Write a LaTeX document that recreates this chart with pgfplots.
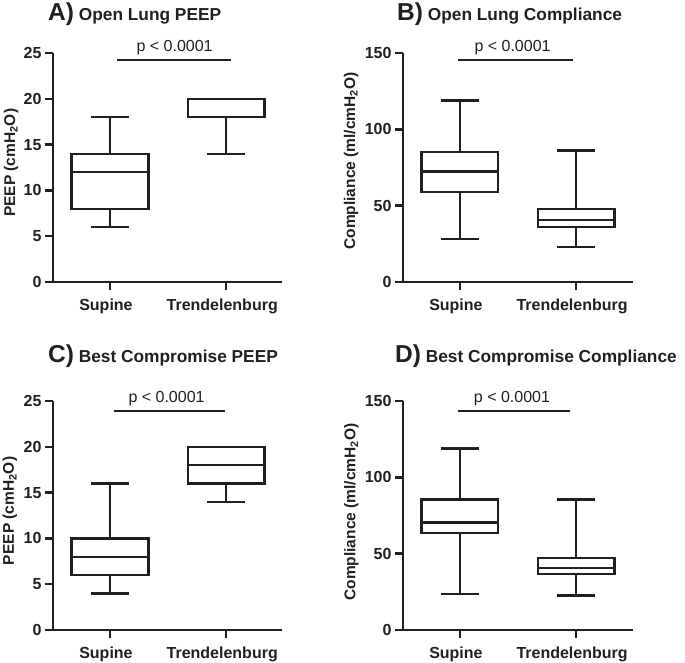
\documentclass[border=0pt]{standalone}
\usepackage{fontspec}
\setmainfont{Liberation Sans}
\usepackage{pgfplots}
\pgfplotsset{compat=1.18}
\usepgfplotslibrary{statistics}
\definecolor{ink}{RGB}{35,31,32}
\pgfplotsset{
 panel/.style={
  scale only axis, height=229pt,
  axis lines=left, axis line style={-, line width=2.4pt, ink},
  xtick={0,1}, xticklabels={Supine,Trendelenburg},
  ymin=0,
  tick align=outside, major tick length=8pt,
  tick style={line width=2.4pt, ink},
  tick label style={font=\fontsize{16}{16}\selectfont\bfseries, text=ink},
  xticklabel style={xshift=-4pt, yshift=-5pt},
  /pgf/number format/assume math mode=true,
  ylabel style={font=\fontsize{15.5}{15.5}\selectfont\bfseries, text=ink, anchor=center},
  clip=false,
  boxplot/draw direction=y,
  boxplot/box extend=0.66,
  boxplot/whisker extend=0.33,
 },
 peep/.style={panel, width=229pt, xmin=-0.49, xmax=1.48, ymax=25, ytick={0,5,10,15,20,25},
  ylabel={PEEP (cmH\textsubscript{2}O)}},
 comp/.style={panel, width=230pt, xmin=-0.49, xmax=1.49, ymax=150, ytick={0,50,100,150},
  ylabel={Compliance (ml/cmH\textsubscript{2}O)}},
 bx/.style={draw=ink, line width=2.4pt, fill=white, solid},
}
\newcommand{\ttl}[2]{\bfseries{\fontsize{24.5}{24.5}\selectfont #1)}\fontsize{17.3}{17.3}\selectfont\ #2}
\begin{document}
\begin{tikzpicture}
\useasboundingbox (0pt,0pt) rectangle (685pt,663pt);
% A
\begin{axis}[peep, at={(53pt,381pt)}, anchor=south west,
  ylabel style={at={(axis description cs:-0.183,0.52)}}]
\addplot[bx, boxplot prepared={draw position=0, lower whisker=6, lower quartile=8, median=12, upper quartile=14, upper whisker=18}] coordinates {};
\addplot[bx, boxplot prepared={draw position=1, lower whisker=14, lower quartile=18, median=18, upper quartile=20, upper whisker=20}] coordinates {};
\addplot[ink, line width=2.4pt] coordinates {(0.06,24.24) (1.043,24.24)};
\node[font=\fontsize{16}{16}\selectfont, text=ink, anchor=base] at (axis cs:0.556,25.2) {p < 0.0001};
\end{axis}
% B
\begin{axis}[comp, at={(403pt,381pt)}, anchor=south west,
  ylabel style={at={(axis description cs:-0.226,0.528)}}]
\addplot[bx, boxplot prepared={draw position=0, lower whisker=28, lower quartile=59, median=72.5, upper quartile=85, upper whisker=119}] coordinates {};
\addplot[bx, boxplot prepared={draw position=1, lower whisker=23, lower quartile=36, median=40.5, upper quartile=48, upper whisker=86}] coordinates {};
\addplot[ink, line width=2.4pt] coordinates {(-0.017,145.4) (0.974,145.4)};
\node[font=\fontsize{16}{16}\selectfont, text=ink, anchor=base] at (axis cs:0.453,151.3) {p < 0.0001};
\end{axis}
% C
\begin{axis}[peep, at={(53pt,33pt)}, anchor=south west,
  ylabel style={at={(axis description cs:-0.188,0.52)}}]
\addplot[bx, boxplot prepared={draw position=0, lower whisker=4, lower quartile=6, median=8, upper quartile=10, upper whisker=16}] coordinates {};
\addplot[bx, boxplot prepared={draw position=1, lower whisker=14, lower quartile=16, median=18, upper quartile=20, upper whisker=20}] coordinates {};
\addplot[ink, line width=2.4pt] coordinates {(0.034,23.9) (0.991,23.9)};
\node[font=\fontsize{16}{16}\selectfont, text=ink, anchor=base] at (axis cs:0.487,24.8) {p < 0.0001};
\end{axis}
% D
\begin{axis}[comp, at={(403pt,33pt)}, anchor=south west,
  ylabel style={at={(axis description cs:-0.224,0.515)}}]
\addplot[bx, boxplot prepared={draw position=0, lower whisker=23.4, lower quartile=63.7, median=70.3, upper quartile=85.4, upper whisker=119}] coordinates {};
\addplot[bx, boxplot prepared={draw position=1, lower whisker=22.5, lower quartile=36.5, median=40.6, upper quartile=47.2, upper whisker=85.6}] coordinates {};
\addplot[ink, line width=2.4pt] coordinates {(-0.017,143.4) (0.948,143.4)};
\node[font=\fontsize{16}{16}\selectfont, text=ink, anchor=base] at (axis cs:0.448,148.7) {p < 0.0001};
\end{axis}
\node[anchor=base west, text=ink, inner sep=0pt] at (48pt,642pt) {\ttl{A}{Open Lung PEEP}};
\node[anchor=base west, text=ink, inner sep=0pt] at (397pt,642pt) {\ttl{B}{Open Lung Compliance}};
\node[anchor=base west, text=ink, inner sep=0pt] at (48pt,300pt) {\ttl{C}{Best Compromise PEEP}};
\node[anchor=base west, text=ink, inner sep=0pt] at (395pt,300pt) {\ttl{D}{Best Compromise Compliance}};
\end{tikzpicture}
\end{document}
